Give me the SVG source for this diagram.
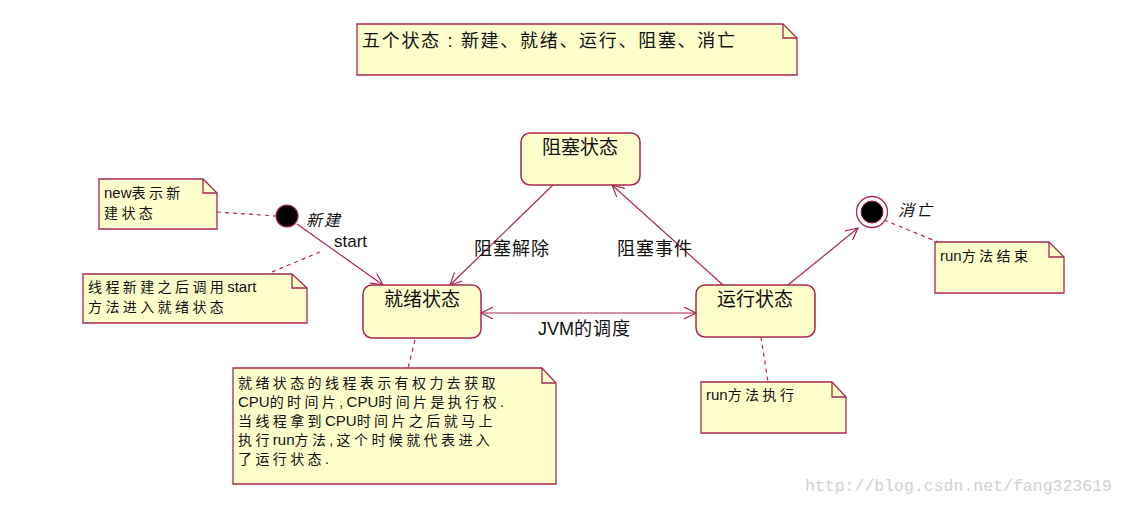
<svg xmlns="http://www.w3.org/2000/svg" width="1126" height="506" viewBox="0 0 1126 506">
<style>
.note{fill:#ffffcc;stroke:#a8284f;stroke-width:1.3}
.fold{fill:none;stroke:#a8284f;stroke-width:1.3}
.state{fill:#ffffcc;stroke:#a8284f;stroke-width:1.5}
.edge{fill:none;stroke:#a8284f;stroke-width:1.2}
.dash{fill:none;stroke:#a8284f;stroke-width:1.2;stroke-dasharray:4,4}
text{font-family:"Liberation Sans","Noto Sans CJK SC",sans-serif;fill:#111}
.nt{font-size:14px}
.cj{letter-spacing:3.4px}
.la{font-size:15px}
.st{font-size:19px;text-anchor:middle}
.lb{font-size:18px}
.it{font-size:16px;font-style:italic;letter-spacing:2px}
</style>
<defs>
<marker id="arr" markerUnits="userSpaceOnUse" markerWidth="14" markerHeight="14" refX="12" refY="6" orient="auto-start-reverse">
<path d="M0,0 L12,6 L0,12" fill="none" stroke="#a8284f" stroke-width="1.2"/>
</marker>
</defs>
<rect width="1126" height="506" fill="#ffffff"/>

<g id="connectors">
<line class="edge" x1="297" y1="224" x2="383" y2="285" marker-end="url(#arr)"/>
<line class="edge" x1="553" y1="185" x2="450" y2="285" marker-end="url(#arr)"/>
<line class="edge" x1="723" y1="285" x2="612" y2="185" marker-end="url(#arr)"/>
<line class="edge" x1="481" y1="313" x2="696" y2="313" marker-start="url(#arr)" marker-end="url(#arr)"/>
<line class="edge" x1="788" y1="285" x2="858" y2="228" marker-end="url(#arr)"/>
<line class="dash" x1="217" y1="212" x2="276" y2="216"/>
<line class="dash" x1="320" y1="252" x2="267" y2="274"/>
<line class="dash" x1="415" y1="340" x2="408" y2="368"/>
<line class="dash" x1="761" y1="337" x2="768" y2="382"/>
<line class="dash" x1="884" y1="220" x2="938" y2="242"/>
<text x="334" y="247" style="font-size:17px">start</text>
<text class="lb" x="474" y="255" style="letter-spacing:1px">阻塞解除</text>
<text class="lb" x="617" y="255" style="letter-spacing:1px">阻塞事件</text>
<text class="lb" x="538" y="335"><tspan>JVM</tspan><tspan style="letter-spacing:1px">的调度</tspan></text>
</g>

<g id="note-top">
<path class="note" d="M357,24 H783 L797,38 V75 H357 Z"/>
<path class="fold" d="M783,24 V38 H797"/>
<text x="362" y="47" style="font-size:18px;letter-spacing:1.7px">五个状态 : 新建、就绪、运行、阻塞、消亡</text>
</g>

<g id="initial">
<circle cx="287" cy="216" r="11" fill="#000" stroke="#a8284f" stroke-width="1.2"/>
<text class="it" x="306" y="226">新建</text>
</g>

<g id="final">
<circle cx="872" cy="212" r="15.5" fill="#fff" stroke="#a8284f" stroke-width="1.3"/>
<circle cx="872" cy="212" r="11" fill="#000" stroke="#a8284f" stroke-width="1"/>
<text class="it" x="898" y="216">消亡</text>
</g>

<g id="note-new">
<path class="note" d="M99,179 H203 L217,193 V229 H99 Z"/>
<path class="fold" d="M203,179 V193 H217"/>
<text class="nt" x="104" y="198"><tspan class="la">new</tspan><tspan class="cj">表示新</tspan></text>
<text class="nt cj" x="104" y="218">建状态</text>
</g>

<g id="note-start">
<path class="note" d="M83,274 H292 L307,288 V323 H83 Z"/>
<path class="fold" d="M292,274 V288 H307"/>
<text class="nt" x="88" y="292"><tspan class="cj">线程新建之后调用</tspan><tspan class="la">start</tspan></text>
<text class="nt cj" x="88" y="312">方法进入就绪状态</text>
</g>

<g id="state-blocked">
<rect class="state" x="521" y="133" width="119" height="52" rx="9"/>
<text class="st" x="580" y="154">阻塞状态</text>
</g>

<g id="state-ready">
<rect class="state" x="363" y="285" width="118" height="53" rx="9"/>
<text class="st" x="422" y="306">就绪状态</text>
</g>

<g id="state-running">
<rect class="state" x="696" y="285" width="119" height="52" rx="9"/>
<text class="st" x="755" y="306">运行状态</text>
</g>

<g id="note-ready">
<path class="note" d="M233,368 H542 L556,383 V484 H233 Z"/>
<path class="fold" d="M542,368 V383 H556"/>
<text class="nt" x="238" y="388"><tspan class="cj">就绪状态的线程表示有权力去获取</tspan></text>
<text class="nt" x="238" y="407"><tspan class="la">CPU</tspan><tspan class="cj">的时间片,</tspan><tspan class="la">CPU</tspan><tspan class="cj">时间片是执行权.</tspan></text>
<text class="nt" x="238" y="426"><tspan class="cj">当线程拿到</tspan><tspan class="la">CPU</tspan><tspan class="cj">时间片之后就马上</tspan></text>
<text class="nt" x="238" y="445"><tspan class="cj">执行</tspan><tspan class="la">run</tspan><tspan class="cj">方法,这个时候就代表进入</tspan></text>
<text class="nt cj" x="238" y="464">了运行状态.</text>
</g>

<g id="note-run">
<path class="note" d="M701,382 H832 L846,397 V433 H701 Z"/>
<path class="fold" d="M832,382 V397 H846"/>
<text class="nt" x="706" y="400"><tspan class="la">run</tspan><tspan class="cj">方法执行</tspan></text>
</g>

<g id="note-end">
<path class="note" d="M935,242 H1049 L1064,257 V293 H935 Z"/>
<path class="fold" d="M1049,242 V257 H1064"/>
<text class="nt" x="940" y="261"><tspan class="la">run</tspan><tspan class="cj">方法结束</tspan></text>
</g>

<text x="805" y="491" style="font-family:'Liberation Mono',monospace;font-size:16.5px;fill:#d2d2d2">http://blog.csdn.net/fang323619</text>
</svg>
